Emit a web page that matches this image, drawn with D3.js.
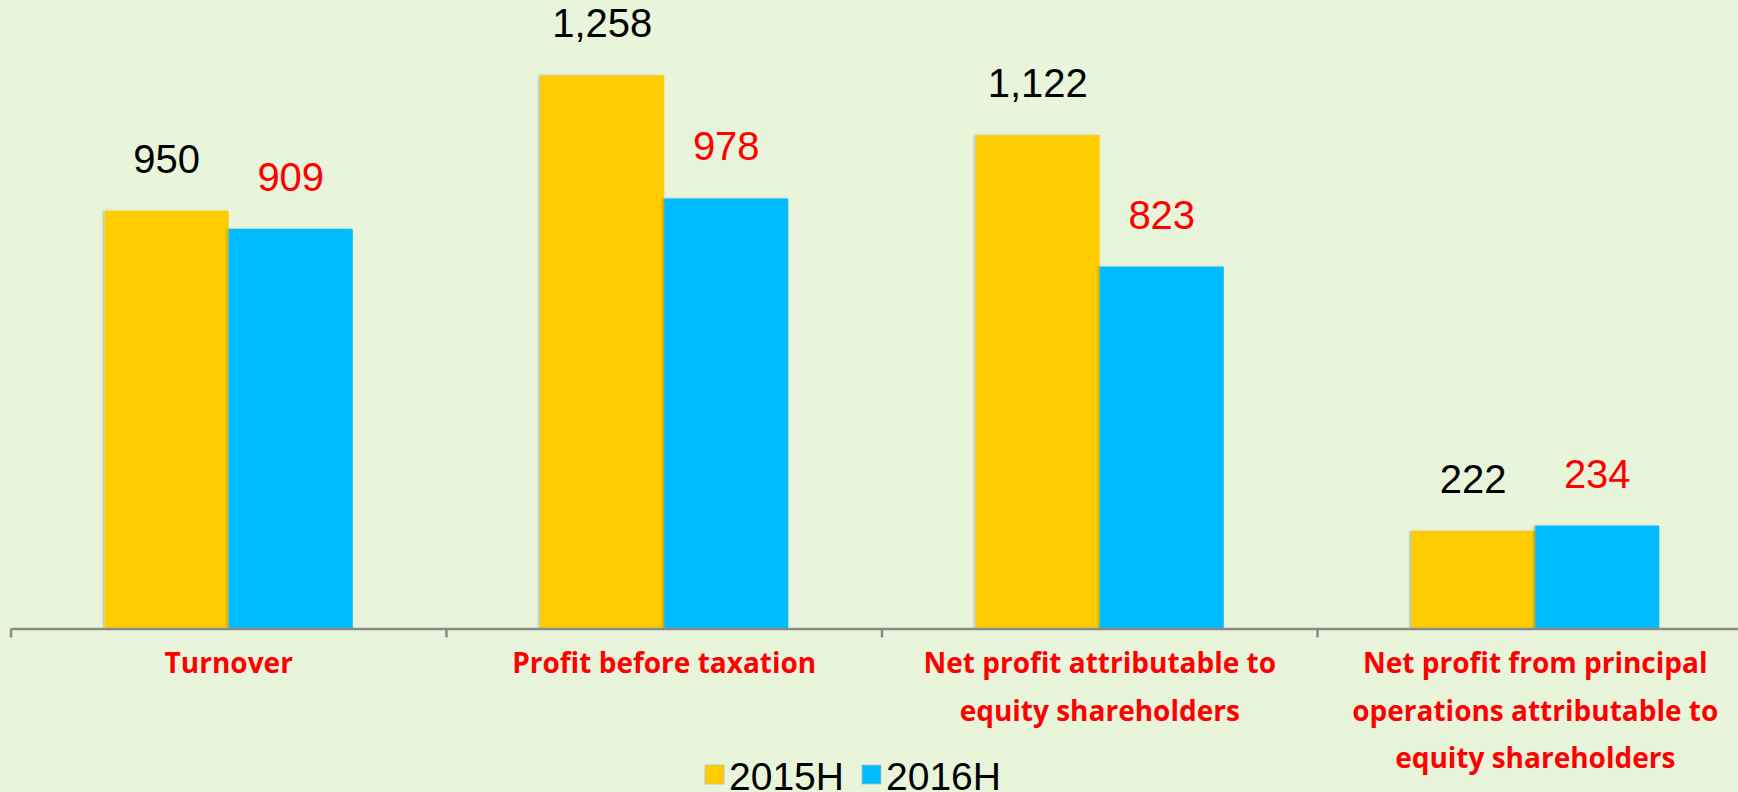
<!DOCTYPE html>
<html>
<head>
<meta charset="utf-8">
<script src="https://cdn.jsdelivr.net/npm/d3@7"></script>
<style>
  html, body { margin: 0; padding: 0; background: #e8f5db; overflow: hidden; }
  svg { display: block; }
</style>
</head>
<body>
<svg id="chart" width="1738" height="792"></svg>
<script>
const categories = [
  "Turnover",
  "Profit before taxation",
  "Net profit attributable to equity shareholders",
  "Net profit from principal operations attributable to equity shareholders"
];
const categoryLines = [
  ["Turnover"],
  ["Profit before taxation"],
  ["Net profit attributable to", "equity shareholders"],
  ["Net profit from principal", "operations attributable to", "equity shareholders"]
];
const seriesNames = ["2015H", "2016H"];
const values2015H = [950, 1258, 1122, 222];
const values2016H = [909, 978, 823, 234];
const valueLabels2015H = ["950", "1,258", "1,122", "222"];
const valueLabels2016H = ["909", "978", "823", "234"];

const colors = { "2015H": "#ffcc00", "2016H": "#00bbff" };
const labelColors = { "2015H": "#000000", "2016H": "#ff0000" };

const svg = d3.select("#chart");
svg.append("rect").attr("width", 1738).attr("height", 792).attr("fill", "#e8f5db");

const axisY = 628.5;
const x0 = d3.scaleBand().domain(categories).range([11, 11 + 4 * 435.5]).paddingInner(0).paddingOuter(0);
const x1 = d3.scaleBand().domain(seriesNames).range([0, x0.bandwidth()]).paddingInner(0).paddingOuter(0.756);
const y = d3.scaleLinear().domain([0, 1400]).range([axisY, axisY - 1400 * 0.4397]);

const data = categories.map((c, i) => ({
  cat: c,
  vals: [
    { s: "2015H", v: values2015H[i], label: valueLabels2015H[i] },
    { s: "2016H", v: values2016H[i], label: valueLabels2016H[i] }
  ]
}));

const defs = svg.append("defs");
const f = defs.append("filter").attr("id", "shadow").attr("x", "-10%").attr("y", "-5%").attr("width", "120%").attr("height", "110%");
f.append("feDropShadow").attr("dx", -1.5).attr("dy", 0).attr("stdDeviation", 1.2).attr("flood-color", "#000").attr("flood-opacity", 0.25);

const groups = svg.append("g").selectAll("g").data(data).join("g")
  .attr("transform", d => `translate(${x0(d.cat)},0)`);

groups.selectAll("rect").data(d => d.vals).join("rect")
  .attr("x", d => x1(d.s))
  .attr("y", d => y(d.v))
  .attr("width", x1.bandwidth())
  .attr("height", d => y(0) - y(d.v))
  .attr("fill", d => colors[d.s])
  .attr("filter", "url(#shadow)");

groups.selectAll("text.val").data(d => d.vals).join("text")
  .attr("class", "val")
  .attr("x", d => x1(d.s) + x1.bandwidth() / 2)
  .attr("y", d => y(d.v) - 38)
  .attr("text-anchor", "middle")
  .attr("font-family", "Liberation Sans, Arial, sans-serif")
  .attr("font-size", 40)
  .attr("fill", d => labelColors[d.s])
  .text(d => d.label);

// axis
const axis = d3.axisBottom(x0).tickSize(0).tickSizeOuter(0).tickFormat("");
const axG = svg.append("g").attr("transform", `translate(0,${axisY})`).call(axis);
axG.select(".domain").attr("stroke", "#8a8a8a").attr("stroke-width", 2.5);
axG.selectAll(".tick").remove();
const boundaries = categories.map(c => x0(c)).concat([x0.range()[1]]);
axG.selectAll("line.bt").data(boundaries).join("line")
  .attr("class", "bt")
  .attr("x1", d => d).attr("x2", d => d)
  .attr("y1", 0).attr("y2", 9)
  .attr("stroke", "#8a8a8a").attr("stroke-width", 2.5);

// category labels
const catG = svg.append("g");
categories.forEach((c, i) => {
  const cx = x0(c) + x0.bandwidth() / 2;
  const t = catG.append("text")
    .attr("text-anchor", "middle")
    .attr("font-family", "Open Sans, sans-serif")
    .attr("font-weight", "bold")
    .attr("font-size", 28)
    .attr("fill", "#ff0000");
  categoryLines[i].forEach((ln, j) => {
    t.append("tspan").attr("x", cx).attr("y", 673 + j * 47.7).text(ln);
  });
});

// legend
const leg = svg.append("g");
const legendItems = [
  { s: "2015H", sx: 705, tx: 729 },
  { s: "2016H", sx: 862, tx: 886 }
];
legendItems.forEach(it => {
  leg.append("rect").attr("x", it.sx).attr("y", 765).attr("width", 19).attr("height", 19)
    .attr("fill", colors[it.s]).attr("stroke", "#bbb").attr("stroke-width", 0.8);
  leg.append("text").attr("x", it.tx).attr("y", 790)
    .attr("font-family", "Liberation Sans, Arial, sans-serif")
    .attr("font-size", 39).attr("fill", "#000").text(it.s);
});
</script>
</body>
</html>
